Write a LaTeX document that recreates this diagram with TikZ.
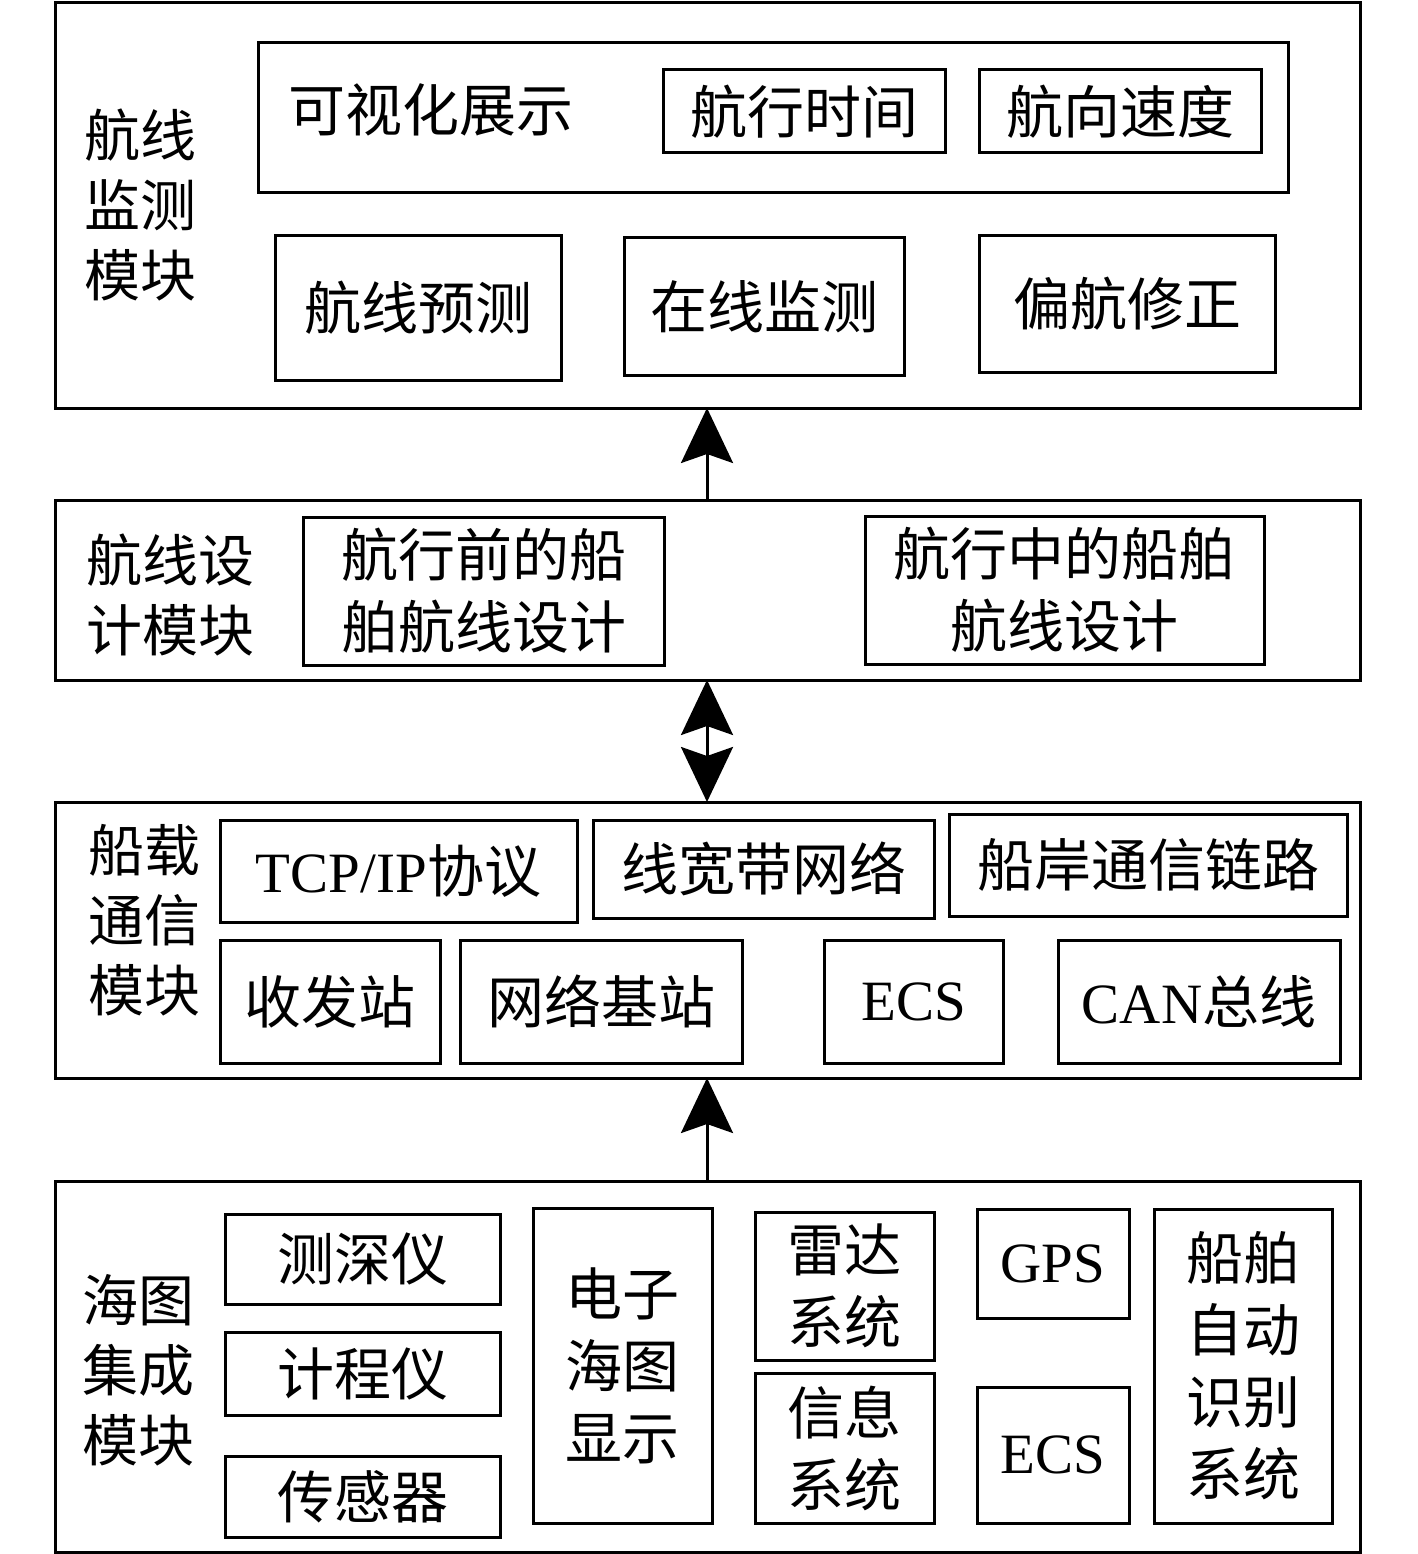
\documentclass[tikz,border=0pt]{standalone}
\usepackage{fontspec}
\setmainfont{Liberation Serif}
\newfontfamily\cjk{Noto Sans CJK SC}
\usetikzlibrary{arrows.meta}
\tikzset{
  bxs/.style={draw, line width=3pt, inner sep=0pt, align=center, font=\fontsize{57}{72}\selectfont},
  lbl/.style={inner sep=0pt, align=center, font=\fontsize{56}{70}\selectfont\cjk},
  conn/.style={line width=3pt, -{Stealth[length=55pt,width=52pt,inset=9pt]}},
  dconn/.style={line width=3pt, {Stealth[length=55pt,width=52pt,inset=9pt]}-{Stealth[length=55pt,width=52pt,inset=9pt]}}
}
\newcommand\bx[6]{\node[bxs, minimum width={#4-#2}, minimum height={#5-#3}] (#1) at ({(#2+#4)/2},{(#3+#5)/2}) {#6};}
\begin{document}
\begin{tikzpicture}[x=1pt,y=-1pt]
\useasboundingbox (0,0) rectangle (1417,1554);
% module 1
\bx{m1}{55}{3}{1360}{408}{}
\node[lbl] (m1l) at (140,205) {航线\\监测\\模块};
\bx{vis}{258}{43}{1288}{193}{}
\node[lbl, anchor=west, font=\fontsize{57}{70}\selectfont\cjk] (vist) at (288,110) {可视化展示};
\bx{hxsj}{663}{70}{945}{153}{\cjk 航行时间}
\bx{hxsd}{979}{70}{1261}{153}{\cjk 航向速度}
\bx{hxyc}{275}{236}{561}{380}{\cjk 航线预测}
\bx{zxjc}{624}{238}{904}{375}{\cjk 在线监测}
\bx{phxz}{979}{236}{1275}{372}{\cjk 偏航修正}
% module 2
\bx{m2}{55}{500}{1360}{680}{}
\node[lbl] (m2l) at (170,595) {航线设\\计模块};
\bx{qsj}{303}{517}{664}{665}{\cjk 航行前的船\\\cjk 舶航线设计}
\bx{zsj}{865}{516}{1264}{664}{\cjk 航行中的船舶\\\cjk 航线设计}
% module 3
\bx{m3}{55}{802}{1360}{1078}{}
\node[lbl] (m3l) at (144,920) {船载\\通信\\模块};
\bx{tcp}{220}{820}{577}{922}{TCP/IP{\cjk 协议}}
\bx{kd}{593}{820}{934}{918}{\cjk 线宽带网络}
\bx{ca}{949}{814}{1347}{916}{\cjk 船岸通信链路}
\bx{sfz}{220}{940}{440}{1063}{\cjk 收发站}
\bx{wljz}{460}{940}{742}{1063}{\cjk 网络基站}
\bx{ecs1}{824}{940}{1003}{1063}{ECS}
\bx{can}{1058}{940}{1340}{1063}{CAN{\cjk 总线}}
% module 4
\bx{m4}{55}{1181}{1360}{1552}{}
\node[lbl] (m4l) at (138,1370) {海图\\集成\\模块};
\bx{csy}{225}{1214}{500}{1304}{\cjk 测深仪}
\bx{jcy}{225}{1332}{500}{1415}{\cjk 计程仪}
\bx{cgq}{225}{1456}{500}{1537}{\cjk 传感器}
\bx{dzht}{533}{1208}{712}{1523}{\cjk 电子\\\cjk 海图\\\cjk 显示}
\bx{ld}{755}{1212}{934}{1360}{\cjk 雷达\\\cjk 系统}
\bx{xx}{755}{1373}{934}{1523}{\cjk 信息\\\cjk 系统}
\bx{gps}{977}{1209}{1129}{1318}{GPS}
\bx{ecs2}{977}{1387}{1129}{1523}{ECS}
\bx{ais}{1154}{1209}{1332}{1523}{\cjk 船舶\\\cjk 自动\\\cjk 识别\\\cjk 系统}
% connectors
\coordinate (a1) at (707,408);
\coordinate (a2) at (707,500);
\coordinate (b1) at (707,680);
\coordinate (b2) at (707,802);
\coordinate (c1) at (707,1078);
\coordinate (c2) at (707,1181);
\draw[conn] (a2) -- (a1);
\draw[dconn] (b1) -- (b2);
\draw[conn] (c2) -- (c1);
\end{tikzpicture}
\end{document}
